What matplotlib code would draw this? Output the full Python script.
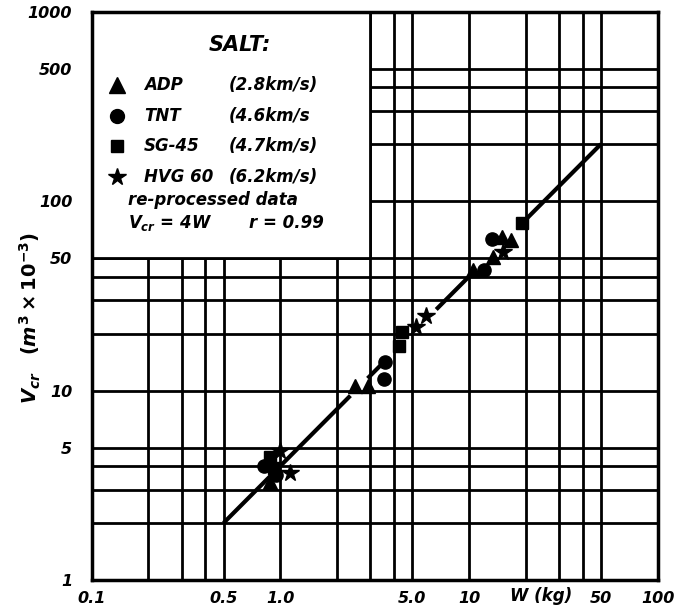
import matplotlib
matplotlib.use("Agg")
import matplotlib.pyplot as plt
from matplotlib.lines import Line2D
from matplotlib.patches import Rectangle
import numpy as np

plt.rcParams['font.family'] = ['DejaVu Sans']
plt.rcParams['mathtext.fontset'] = 'custom'
plt.rcParams['mathtext.it'] = 'DejaVu Sans:italic:bold'
plt.rcParams['mathtext.rm'] = 'DejaVu Sans:bold'

# ---- data ----
adp_W = [0.88, 2.48, 2.93, 10.5, 13.4, 14.9, 16.6]
adp_V = [3.3, 10.6, 10.6, 43.3, 50.9, 65.0, 62.5]
tnt_W = [0.82, 0.95, 3.58, 3.55, 12.0, 13.2]
tnt_V = [4.0, 3.6, 14.2, 11.5, 43.3, 62.9]
sg_W = [0.88, 0.93, 4.25, 4.4, 19.2]
sg_V = [4.45, 3.9, 17.1, 20.3, 76.9]
hvg_W = [1.0, 1.13, 5.23, 5.9, 15.2]
hvg_V = [4.8, 3.65, 21.6, 24.8, 54.1]

fit_coef = 4.0                       # Vcr = 4W
fit_segments = [(0.5, 2.35), (2.9, 3.4), (6.7, 10.2), (20.3, 50.0)]

x_grid = [0.2, 0.3, 0.4, 0.5, 1, 2, 3, 4, 5, 10, 20, 30, 40, 50]
y_grid = [2, 3, 4, 5, 10, 20, 30, 40, 50, 100, 200, 300, 400, 500]
x_labels = {0.1: '0.1', 0.5: '0.5', 1: '1.0', 5: '5.0', 10: '10', 50: '50', 100: '100'}
y_labels = {1: '1', 5: '5', 10: '10', 50: '50', 100: '100', 500: '500', 1000: '1000'}

legend_names = ['ADP', 'TNT', 'SG-45', 'HVG 60']
legend_speeds = ['(2.8km/s)', '(4.6km/s', '(4.7km/s)', '(6.2km/s)']

W_px, H_px = 681, 613
fig = plt.figure(figsize=(W_px / 100, H_px / 100), dpi=100)
ax = fig.add_axes([91.7 / W_px, 1 - 580 / H_px, (657.7 - 91.7) / W_px, (580 - 11.7) / H_px])
ax.set_xscale('log')
ax.set_yscale('log')
ax.set_xlim(0.1, 100)
ax.set_ylim(1, 1000)

# grid lines
for xv in x_grid:
    ax.axvline(xv, color='black', lw=2.0, zorder=0.5)
for yv in y_grid:
    ax.axhline(yv, color='black', lw=2.0, zorder=0.5)

xt = sorted(x_labels.keys())
ax.set_xticks(xt)
ax.set_xticklabels([x_labels[v] for v in xt])
yt = sorted(y_labels.keys())
ax.set_yticks(yt)
ax.set_yticklabels([y_labels[v] for v in yt])
ax.minorticks_off()
ax.tick_params(length=0, labelsize=11.5)
ax.tick_params(axis='x', pad=8)
ax.tick_params(axis='y', pad=14)
for lab in ax.get_xticklabels() + ax.get_yticklabels():
    lab.set_fontstyle('italic')
    lab.set_fontweight('bold')
for s in ax.spines.values():
    s.set_linewidth(2.5)

# legend box (white, covers grid)
ax.add_patch(Rectangle((0.1, 50), 3 - 0.1, 1000 - 50, facecolor='white',
                       edgecolor='black', lw=2.0, zorder=1.5))

# fit line
for a, b in fit_segments:
    ww = np.array([a, b])
    ax.plot(ww, fit_coef * ww, color='black', lw=3.0, zorder=2, solid_capstyle='butt')

ms = dict(color='black', linestyle='none', zorder=3)
ax.plot(adp_W, adp_V, marker='^', markersize=10, **ms)
ax.plot(tnt_W, tnt_V, marker='o', markersize=9.5, **ms)
ax.plot(sg_W, sg_V, marker='s', markersize=8, **ms)
ax.plot(hvg_W, hvg_V, marker='*', markersize=13, **ms)

# legend contents
def fx(x):
    return x / W_px

def fy(y):
    return 1 - y / H_px

tkw = dict(fontstyle='italic', fontweight='bold', fontsize=12, va='center', ha='left',
           color='black', zorder=5)
fig.text(fx(240), fy(45), 'SALT:', fontstyle='italic', fontweight='bold', fontsize=15,
         ha='center', va='center')
mk = ['^', 'o', 's', '*']
msz = [11, 10, 9, 13]
rows = [85, 116, 146, 177]
for m, s_, r, name, sp in zip(mk, msz, rows, legend_names, legend_speeds):
    fig.add_artist(Line2D([fx(117)], [fy(r)], marker=m, markersize=s_, color='black',
                          linestyle='none', transform=fig.transFigure))
    fig.text(fx(144), fy(r), name, **tkw)
    fig.text(fx(229), fy(r), sp, **tkw)
fig.text(fx(128), fy(200), 're-processed data', **tkw)
fig.text(fx(128), fy(223), r'$V_{cr}$ = 4W', **tkw)
fig.text(fx(249), fy(223), 'r = 0.99', **tkw)

# axis labels
ax.text(24, -0.028, 'W (kg)', transform=ax.get_xaxis_transform(), ha='center', va='center',
        fontstyle='italic', fontweight='bold', fontsize=12)
fig.text(fx(30), fy(318), r'$V_{cr}$   $(m^3 \times 10^{-3})$', rotation=90,
         ha='center', va='center', fontsize=14)

fig.savefig('out.png', dpi=100)
